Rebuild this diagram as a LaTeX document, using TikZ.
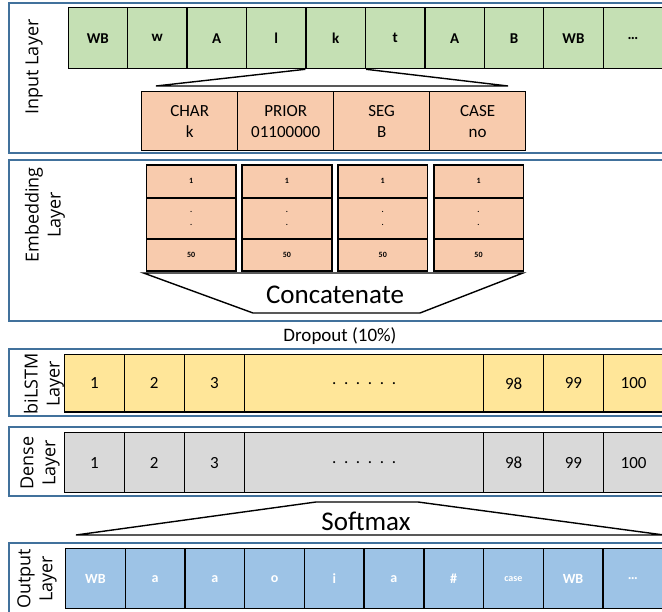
\documentclass[tikz,border=0pt]{standalone}
\usepackage{fontspec}
\setmainfont{Carlito}
\newfontfamily\labfont{Open Sans}
\definecolor{frameblue}{HTML}{41719C}
\definecolor{ingreen}{HTML}{C5E0B4}
\definecolor{inorange}{HTML}{F8CBAD}
\definecolor{inyellow}{HTML}{FFE699}
\definecolor{ingray}{HTML}{D9D9D9}
\definecolor{inblue}{HTML}{9DC3E6}
\begin{document}
\begin{tikzpicture}[x=1pt,y=-1pt,
  frame/.style={draw=frameblue,line width=1.8pt},
  cellbox/.style={draw=black,line width=1.3pt,inner sep=0pt,anchor=north west,align=center},
  gcell/.style={cellbox,fill=ingreen,minimum width=59.45pt,minimum height=61pt,font=\fontsize{15}{16}\selectfont\bfseries},
  ocell/.style={cellbox,fill=inorange,minimum width=96pt,minimum height=59pt,font=\fontsize{17}{21}\selectfont},
  ecell/.style={cellbox,line width=1.6pt,fill=inorange,minimum width=89.5pt,font=\fontsize{8}{13}\selectfont\bfseries},
  ycell/.style={cellbox,fill=inyellow,minimum height=57.5pt,font=\fontsize{17}{19}\selectfont},
  dcell/.style={cellbox,fill=ingray,minimum height=60pt,font=\fontsize{17}{19}\selectfont},
  bcell/.style={cellbox,fill=inblue,minimum width=59.6pt,minimum height=60pt,text=white,font=\fontsize{14}{15}\selectfont\bfseries},
  layerlab/.style={rotate=90,align=center,font=\labfont\fontsize{18}{22}\selectfont},
  trap/.style={draw=black,line width=1.4pt,fill=white}]
\clip (0,0) rectangle (662,612);
\fill[white] (0,0) rectangle (662,612);
% frames
\draw[frame] (9,3) rectangle (680,153);
\draw[frame] (9,160) rectangle (680,321);
\draw[frame] (9,349) rectangle (680,416);
\draw[frame] (9,427) rectangle (680,496);
\draw[frame] (9,543) rectangle (680,640);
% layer labels
\node[layerlab] (linput) at (34,67) {Input Layer};
\node[layerlab] (lembed) at (45,215) {Embedding\\Layer};
\node[layerlab] (llstm) at (44,384) {biLSTM\\Layer};
\node[layerlab] (ldense) at (40,463) {Dense\\Layer};
\node[layerlab] (lout) at (37,579) {Output\\Layer};
% input cells and trapezoid
\foreach \t [count=\i] in {WB,w,A,l,k,t,A,B,WB,{…}}
  \node[gcell] (g\i) at ({67.5+(\i-1)*59.45},7) {\t};
\coordinate (itl) at (156,86);
\coordinate (itr) at (508,86);
\draw[line width=1.4pt] (g5.south west) -- (itl) -- (itr) -- (g5.south east);
% input features
\node[ocell] (o1) at (141,91) {CHAR\\k};
\node[ocell] (o2) at (237,91) {PRIOR\\01100000};
\node[ocell] (o3) at (333,91) {SEG\\B};
\node[ocell] (o4) at (429,91) {CASE\\no};
% embeddings
\foreach \i in {1,2,3,4}{
  \node[ecell,minimum height=33pt] (e\i a) at ({145.6+(\i-1)*95.8},164) {1};
  \node[ecell,minimum height=41pt] (e\i b) at ({145.6+(\i-1)*95.8},197) {.\\.};
  \node[ecell,minimum height=32pt] (e\i c) at ({145.6+(\i-1)*95.8},238) {50};
}
\coordinate (ca) at (143.5,273);
\coordinate (cb) at (253,313);
\coordinate (cc) at (420,313);
\coordinate (cd) at (523,273);
\draw[trap] (ca) -- (cb) -- (cc) -- (cd) -- cycle;
\node[font=\fontsize{27}{30}\selectfont] (concat) at (335,295) {Concatenate};
\node[font=\fontsize{19}{22}\selectfont] (dropout) at (340,336) {Dropout (10\%)};
% biLSTM
\node[ycell,minimum width=59.6pt] (y1) at (64,354) {1};
\node[ycell,minimum width=59.9pt] (y2) at (123.6,354) {2};
\node[ycell,minimum width=60.5pt] (y3) at (183.5,354) {3};
\node[ycell,minimum width=239pt] (y4) at (244,354) {.\ \ .\ \ .\ \ .\ \ .\ \ .};
\node[ycell,minimum width=60pt] (y5) at (483,354) {98};
\node[ycell,minimum width=59.5pt] (y6) at (543,354) {99};
\node[ycell,minimum width=61pt] (y7) at (602.5,354) {100};
% dense
\node[dcell,minimum width=59.6pt] (d1) at (64,432) {1};
\node[dcell,minimum width=59.9pt] (d2) at (123.6,432) {2};
\node[dcell,minimum width=60.5pt] (d3) at (183.5,432) {3};
\node[dcell,minimum width=239pt] (d4) at (244,432) {.\ \ .\ \ .\ \ .\ \ .\ \ .};
\node[dcell,minimum width=60pt] (d5) at (483,432) {98};
\node[dcell,minimum width=59.5pt] (d6) at (543,432) {99};
\node[dcell,minimum width=61pt] (d7) at (602.5,432) {100};
% softmax
\coordinate (sa) at (316,502);
\coordinate (sb) at (418,502);
\coordinate (sc) at (664,535);
\coordinate (sd) at (76,535);
\draw[trap] (sa) -- (sb) -- (sc) -- (sd) -- cycle;
\node[font=\fontsize{27}{30}\selectfont] (softmax) at (366,521) {Softmax};
% output
\foreach \t [count=\i] in {WB,a,a,o,i,a,\#,{\fontsize{10}{11}\selectfont case},WB,{…}}
  \node[bcell] (b\i) at ({65+(\i-1)*59.7},548) {\t};
\end{tikzpicture}
\end{document}
